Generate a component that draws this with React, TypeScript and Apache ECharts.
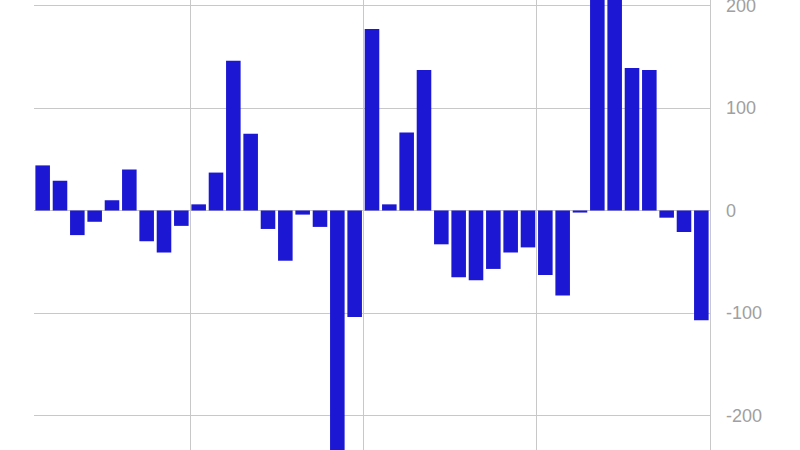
import { useEffect, useRef } from "react";
import * as echarts from "echarts";

// categories (labels are hidden in the picture, only their order matters)
const periods = [
  "1", "2", "3", "4", "5", "6", "7", "8", "9", "10",
  "11", "12", "13", "14", "15", "16", "17", "18", "19", "20",
  "21", "22", "23", "24", "25", "26", "27", "28", "29", "30",
  "31", "32", "33", "34", "35", "36", "37", "38", "39",
];

// bar values
const changes = [
  44, 29, -24, -11, 10, 40, -30, -41, -15, 6,
  37, 146, 75, -18, -49, -4, -16, -260, -104, 177,
  6, 76, 137, -33, -65, -68, -57, -41, -36, -63,
  -83, -2, 230, 225, 139, 137, -7, -21, -107,
];

// y axis scale
const yMin = -300;
const yMax = 300;
const yStep = 100;

// every 10th category boundary gets a vertical line
const splitEvery = [9, 19, 29];

// the picture is a crop of a taller chart: the plot runs past the top and bottom
const overTop = 97;
const overBottom = 68;

function App() {
  const chartRef = useRef<HTMLDivElement>(null);

  useEffect(() => {
    if (!chartRef.current) return;
    const chart = echarts.init(chartRef.current, undefined, { renderer: "svg" });

    const option: any = {
      animation: false,
      backgroundColor: "#ffffff",
      grid: {
        left: 34,
        right: 90,
        top: 0,
        bottom: 0,
        containLabel: false,
        outerBoundsMode: "none",
      },
      xAxis: {
        type: "category",
        data: periods,
        boundaryGap: true,
        axisLine: { show: false },
        axisTick: { show: false },
        axisLabel: { show: false },
        splitLine: {
          show: true,
          interval: (index: number) => splitEvery.includes(index),
          lineStyle: { color: "#c8c8c8", width: 1 },
        },
      },
      yAxis: {
        type: "value",
        position: "right",
        min: yMin,
        max: yMax,
        interval: yStep,
        axisLine: { show: true, lineStyle: { color: "#c8c8c8", width: 1 } },
        axisTick: { show: false },
        axisLabel: {
          color: "#a0a0a0",
          fontSize: 18,
          margin: 16,
          fontFamily: "Liberation Sans, Arial, sans-serif",
        },
        splitLine: { show: true, lineStyle: { color: "#c8c8c8", width: 1 } },
      },
      series: [
        {
          type: "bar",
          data: changes,
          barCategoryGap: "16%",
          itemStyle: { color: "#1c17d2" },
        },
      ],
    };

    chart.setOption(option);
    return () => {
      chart.dispose();
    };
  }, []);

  return (
    <div
      style={{
        position: "fixed",
        top: 0,
        left: 0,
        width: 800,
        height: 450,
        overflow: "hidden",
        background: "#ffffff",
      }}
    >
      <div
        ref={chartRef}
        style={{
          position: "absolute",
          top: -overTop,
          left: 0,
          width: 800,
          height: 450 + overTop + overBottom,
        }}
      />
    </div>
  );
}

export default App;
